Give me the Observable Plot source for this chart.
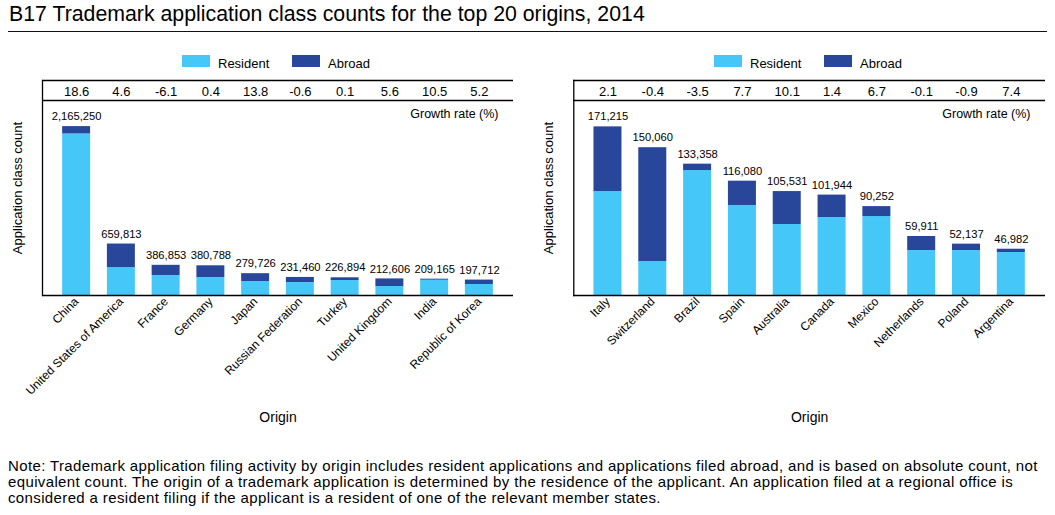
<!DOCTYPE html>
<html><head><meta charset="utf-8">
<script src="https://cdn.jsdelivr.net/npm/d3@7"></script>
<script src="https://cdn.jsdelivr.net/npm/@observablehq/plot@0.6"></script>
<style>
body{margin:0;width:1055px;height:515px;position:relative;font-family:"Liberation Sans",Arial,Helvetica,sans-serif;color:#000;background:#fff;overflow:hidden}
#title{position:absolute;left:9px;top:4px;font-size:21.3px;line-height:21px;white-space:nowrap}
#hr{position:absolute;left:8px;width:1039px;top:31px;height:0;border-top:1.3px solid #111}
.panel{position:absolute;top:40px}
.panel svg{display:block;overflow:visible}
.sw{position:absolute;width:28px;height:12px;top:55px}
.lt{position:absolute;top:56px;font-size:13px;line-height:15px;white-space:nowrap}
#note{position:absolute;left:8px;top:458px;font-size:15px;letter-spacing:0.37px;line-height:16px;white-space:nowrap}
</style></head><body>
<div id="title">B17 Trademark application class counts for the top 20 origins, 2014</div>
<div id="hr"></div>
<div id="legends"></div>
<div id="left" class="panel" style="left:0px"></div>
<div id="right" class="panel" style="left:527px"></div>
<div id="note">Note: Trademark application filing activity by origin includes resident applications and applications filed abroad, and is based on absolute count, not<br>equivalent count. The origin of a trademark application is determined by the residence of the applicant. An application filed at a regional office is<br>considered a resident filing if the applicant is a resident of one of the relevant member states.</div>
<script>
// ---- Data ----
const seriesNames = ["Resident", "Abroad"];
const seriesColors = ["#45c8f7", "#28469a"];

const originsLeft = ["China", "United States of America", "France", "Germany", "Japan", "Russian Federation", "Turkey", "United Kingdom", "India", "Republic of Korea"];
const residentLeft = [2071000, 358000, 256400, 230800, 179500, 166700, 192300, 115400, 196000, 141000];
const abroadLeft = [94250, 301813, 130453, 149988, 100226, 64760, 34594, 97206, 13165, 56712];
const growthLeft = [18.6, 4.6, -6.1, 0.4, 13.8, -0.6, 0.1, 5.6, 10.5, 5.2];

const originsRight = ["Italy", "Switzerland", "Brazil", "Spain", "Australia", "Canada", "Mexico", "Netherlands", "Poland", "Argentina"];
const residentRight = [105600, 34500, 126900, 91400, 72100, 79200, 80200, 45700, 45700, 43660];
const abroadRight = [65615, 115560, 6458, 24680, 33431, 22744, 10052, 14211, 6437, 3322];
const growthRight = [2.1, -0.4, -3.5, 7.7, 10.1, 1.4, 6.7, -0.1, -0.9, 7.4];

const FONT = '"Liberation Sans", Arial, Helvetica, sans-serif';

function panel(origins, resident, abroad, growth, yMax, width, ml, mr) {
  const rows = [];
  origins.forEach((o, i) => rows.push({origin: o, type: seriesNames[0], value: resident[i]}));
  origins.forEach((o, i) => rows.push({origin: o, type: seriesNames[1], value: abroad[i]}));
  const totals = origins.map((o, i) => ({origin: o, total: resident[i] + abroad[i], growth: growth[i]}));
  const fmt = d3.format(",");
  return Plot.plot({
    width, height: 400,
    marginLeft: ml, marginRight: mr, marginTop: 60, marginBottom: 145,
    style: {fontFamily: FONT, fontSize: "12px", color: "#000", background: "transparent", overflow: "visible"},
    x: {domain: origins, paddingInner: 0.375, paddingOuter: 0.45, round: false, label: null, tickSize: 0, tickRotate: -45, tickPadding: 4},
    y: {domain: [0, yMax], axis: null},
    color: {domain: seriesNames, range: seriesColors},
    marks: [
      Plot.barY(rows, {x: "origin", y: "value", fill: "type"}),
      Plot.text(totals, {x: "origin", y: "total", text: d => fmt(d.total), dy: -10, fontSize: 11.2}),
      Plot.text(totals, {x: "origin", frameAnchor: "top", lineAnchor: "middle", text: d => d.growth.toFixed(1), dy: -9, fontSize: 13}),
      Plot.ruleY([0], {stroke: "#000", strokeWidth: 1.3}),
      Plot.ruleY([yMax], {stroke: "#000", strokeWidth: 1.3}),
      Plot.ruleY([yMax], {stroke: "#000", strokeWidth: 1.3, dy: -20}),
      Plot.frame({anchor: "left", insetTop: -20, stroke: "#000", strokeWidth: 1.3}),
      Plot.text(["Growth rate (%)"], {frameAnchor: "top-right", lineAnchor: "middle", dx: -15, dy: 13, textAnchor: "end", fontSize: 12.5}),
      Plot.text(["Application class count"], {frameAnchor: "left", textAnchor: "middle", lineAnchor: "middle", rotate: -90, dx: -25, dy: -10, fontSize: 13}),
      Plot.text(["Origin"], {frameAnchor: "bottom", lineAnchor: "middle", dy: 122, fontSize: 14})
    ]
  });
}

document.getElementById("left").append(panel(originsLeft, residentLeft, abroadLeft, growthLeft, 2500000, 527, 42, 14));
document.getElementById("right").append(panel(originsRight, residentRight, abroadRight, growthRight, 198000, 528, 46.3, 10));

// legends
const leg = document.getElementById("legends");
[[182, 292], [714, 824]].forEach(xs => {
  seriesNames.forEach((name, i) => {
    const sw = document.createElement("div");
    sw.className = "sw"; sw.style.left = xs[i] + "px"; sw.style.background = seriesColors[i];
    const t = document.createElement("div");
    t.className = "lt"; t.style.left = (xs[i] + 36) + "px"; t.textContent = name;
    leg.append(sw, t);
  });
});
</script>
</body></html>
